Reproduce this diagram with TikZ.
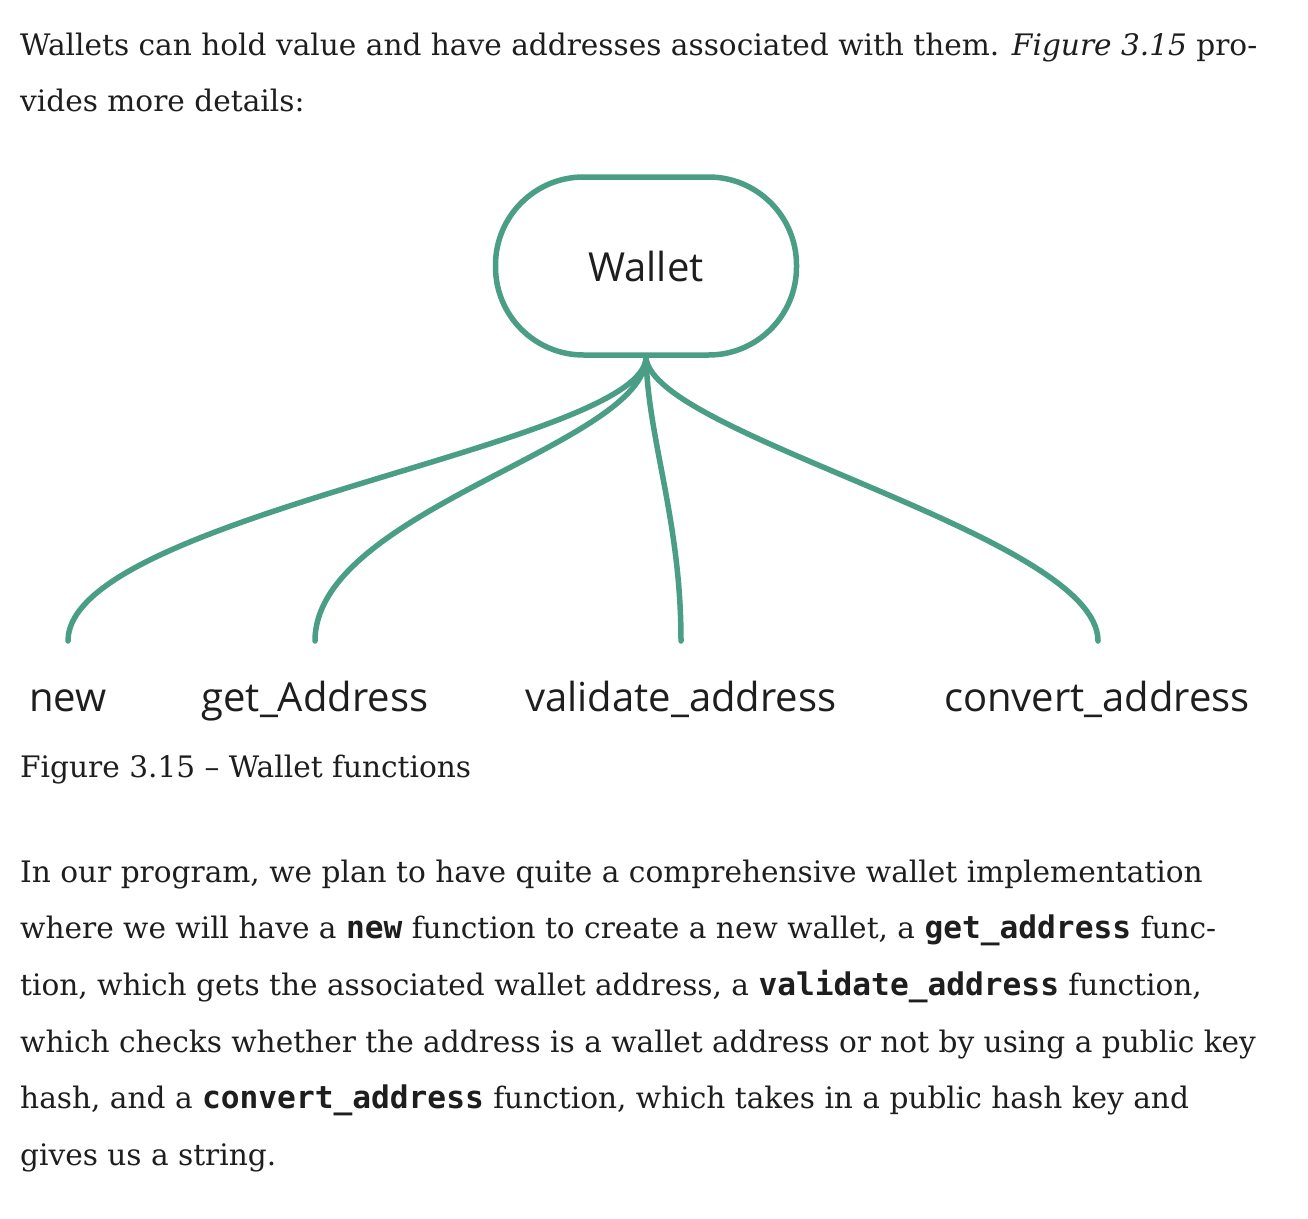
\documentclass[tikz,border=0pt]{standalone}
\usepackage{fontspec}
\setmainfont{DejaVu Serif}
\newfontfamily\diagfont{Open Sans}
\newfontfamily\codefont{DejaVu Sans Mono}
\usetikzlibrary{positioning}
\definecolor{teal}{HTML}{4A9E86}
\definecolor{ink}{HTML}{1E1E1E}
\tikzset{
  wallbox/.style={draw=teal, line width=5.5pt, rounded corners=88pt, minimum width=301pt, minimum height=178pt, inner sep=0pt, text=ink, font=\diagfont\fontsize{40}{44}\selectfont},
  lbl/.style={anchor=base, text=ink, inner sep=0pt, font=\diagfont\fontsize{40}{44}\selectfont},
  link/.style={draw=teal, line width=5.5pt, line cap=round},
  body/.style={anchor=base west, inner sep=0pt, text=ink, font=\fontsize{29.6}{36}\selectfont},
}
\newcommand{\cd}[1]{{\codefont\bfseries\fontsize{31.2}{36}\selectfont #1}}
\begin{document}
\begin{tikzpicture}[x=1pt,y=-1pt]
\useasboundingbox[fill=white] (0,0) rectangle (1308,1218);
\node[body] (t1) at (20,55) {Wallets can hold value and have addresses associated with them. \textit{Figure 3.15} pro-};
\node[body] (t2) at (20,111) {vides more details:};

\node[wallbox] (wallet) at (646,266) {Wallet};
\coordinate (root) at (646,357);
\coordinate (e1) at (68,641);
\coordinate (e2) at (315,641);
\coordinate (e3) at (681,641);
\coordinate (e4) at (1098,641);
\draw[link] (root) .. controls (646,445) and (68,515) .. (e1);
\draw[link] (root) .. controls (646,445) and (315,510) .. (e2);
\draw[link] (root) .. controls (648,440) and (681,520) .. (e3);
\draw[link] (root) .. controls (650,435) and (1098,535) .. (e4);

\node[lbl] (n1) at (68,711) {new};
\node[lbl] (n2) at (315,711) {get\_Address};
\node[lbl] (n3) at (681,711) {validate\_address};
\node[lbl] (n4) at (1097,711) {convert\_address};

\node[body] (cap) at (20,777) {Figure 3.15 – Wallet functions};

\node[body] (p1) at (20,882) {In our program, we plan to have quite a comprehensive wallet implementation};
\node[body] (p2) at (20,938) {where we will have a \cd{new} function to create a new wallet, a \cd{get\_address} func-};
\node[body] (p3) at (20,995) {tion, which gets the associated wallet address, a \cd{validate\_address} function,};
\node[body] (p4) at (20,1052) {which checks whether the address is a wallet address or not by using a public key};
\node[body] (p5) at (20,1108) {hash, and a \cd{convert\_address} function, which takes in a public hash key and};
\node[body] (p6) at (20,1165) {gives us a string.};
\end{tikzpicture}
\end{document}
